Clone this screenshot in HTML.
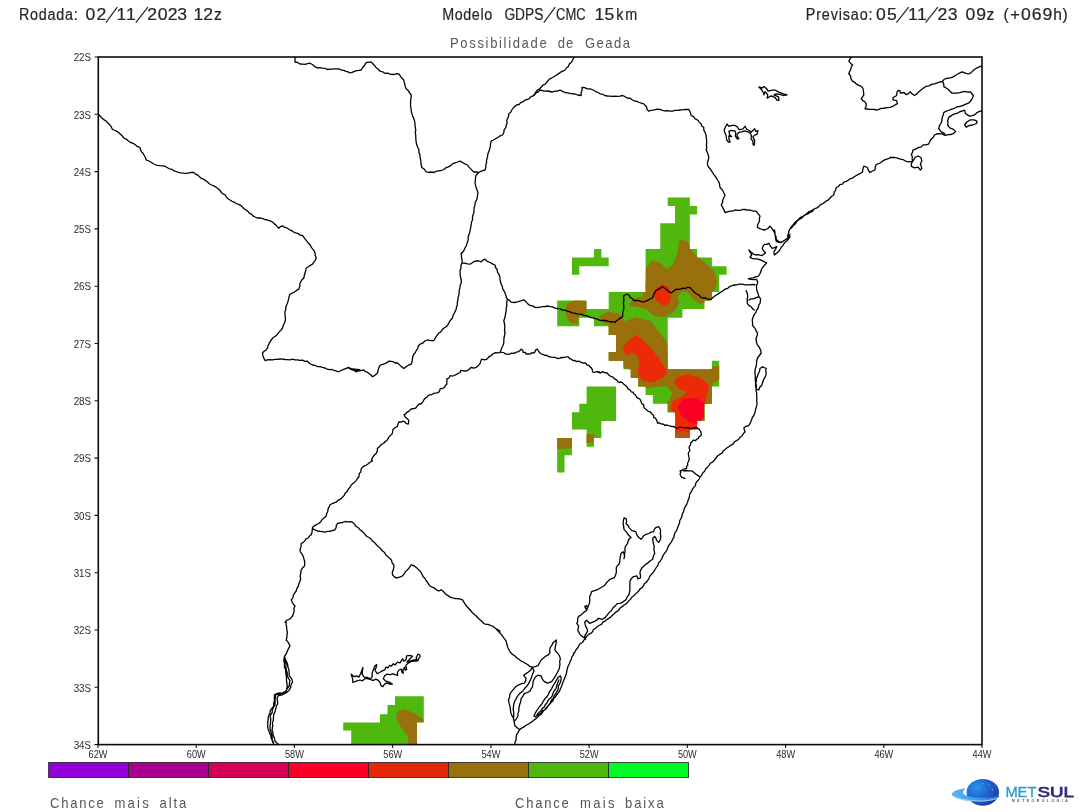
<!DOCTYPE html>
<html><head><meta charset="utf-8"><title>Possibilidade de Geada</title>
<style>
html,body{margin:0;padding:0;background:#fff;}
body{width:1080px;height:812px;overflow:hidden;position:relative;font-family:"Liberation Sans",sans-serif;}
svg{position:absolute;left:0;top:0;will-change:transform;}
text{font-family:"Liberation Sans",sans-serif;}
.ax{font-size:10.3px;fill:#2a2a2a;}
.t{font-size:15.6px;fill:#262626;stroke:#262626;stroke-width:0.2px;}
.s{font-size:14.2px;fill:#585858;}
.l{font-size:14.2px;fill:#555;}
</style></head><body>
<svg width="1080" height="812" viewBox="0 0 1080 812">
<rect width="1080" height="812" fill="#fff"/>
<text transform="translate(18.9,20) scale(0.92,1)" textLength="64.0" lengthAdjust="spacing" class="t">Rodada:</text>
<text transform="translate(90.4,20) scale(1.13,1)" text-anchor="middle" class="t">0</text><text transform="translate(101.5,20) scale(1.13,1)" text-anchor="middle" class="t">2</text>
<path d="M105.9,22.6 L117.3,7.2" stroke="#2a2a2a" stroke-width="1.25" fill="none"/>
<text transform="translate(121.5,20) scale(1.13,1)" text-anchor="middle" class="t">1</text><text transform="translate(130.8,20) scale(1.13,1)" text-anchor="middle" class="t">1</text>
<path d="M135.8,22.6 L147.9,7.2" stroke="#2a2a2a" stroke-width="1.25" fill="none"/>
<text transform="translate(152.2,20) scale(1.13,1)" text-anchor="middle" class="t">2</text><text transform="translate(162.6,20) scale(1.13,1)" text-anchor="middle" class="t">0</text><text transform="translate(172.6,20) scale(1.13,1)" text-anchor="middle" class="t">2</text><text transform="translate(182.1,20) scale(1.13,1)" text-anchor="middle" class="t">3</text><text transform="translate(198.3,20) scale(1.13,1)" text-anchor="middle" class="t">1</text><text transform="translate(208.1,20) scale(1.13,1)" text-anchor="middle" class="t">2</text>
<text transform="translate(217.8,20) scale(1.0,1)" text-anchor="middle" class="t">z</text>
<text transform="translate(442.2,20) scale(0.92,1)" textLength="54.3" lengthAdjust="spacing" class="t">Modelo</text>
<text transform="translate(504.4,20) scale(1,1)" textLength="38.9" lengthAdjust="spacingAndGlyphs" class="t">GDPS</text>
<path d="M543.8,22.6 L555.2,7.2" stroke="#2a2a2a" stroke-width="1.25" fill="none"/>
<text transform="translate(556,20) scale(1,1)" textLength="29.6" lengthAdjust="spacingAndGlyphs" class="t">CMC</text>
<text transform="translate(599.5,20) scale(1.13,1)" text-anchor="middle" class="t">1</text><text transform="translate(609.3,20) scale(1.13,1)" text-anchor="middle" class="t">5</text>
<text transform="translate(616.3,20) scale(0.92,1)" textLength="22.8" lengthAdjust="spacing" class="t">km</text>
<text transform="translate(805.7,20) scale(0.92,1)" textLength="72.7" lengthAdjust="spacing" class="t">Previsao:</text>
<text transform="translate(880.9,20) scale(1.13,1)" text-anchor="middle" class="t">0</text><text transform="translate(892,20) scale(1.13,1)" text-anchor="middle" class="t">5</text>
<path d="M896.4,22.6 L908.7,7.2" stroke="#2a2a2a" stroke-width="1.25" fill="none"/>
<text transform="translate(912.8,20) scale(1.13,1)" text-anchor="middle" class="t">1</text><text transform="translate(922.0,20) scale(1.13,1)" text-anchor="middle" class="t">1</text>
<path d="M925.6,22.6 L937.8,7.2" stroke="#2a2a2a" stroke-width="1.25" fill="none"/>
<text transform="translate(942.5,20) scale(1.13,1)" text-anchor="middle" class="t">2</text><text transform="translate(952.6,20) scale(1.13,1)" text-anchor="middle" class="t">3</text><text transform="translate(970.5,20) scale(1.13,1)" text-anchor="middle" class="t">0</text><text transform="translate(981.2,20) scale(1.13,1)" text-anchor="middle" class="t">9</text>
<text transform="translate(990.4,20) scale(1.0,1)" text-anchor="middle" class="t">z</text>
<text transform="translate(1006,20) scale(1.0,1)" text-anchor="middle" class="t">(</text>
<text transform="translate(1015,20) scale(1.05,1)" text-anchor="middle" class="t">+</text>
<text transform="translate(1026,20) scale(1.13,1)" text-anchor="middle" class="t">0</text><text transform="translate(1036.6,20) scale(1.13,1)" text-anchor="middle" class="t">6</text><text transform="translate(1047.3,20) scale(1.13,1)" text-anchor="middle" class="t">9</text>
<text transform="translate(1057.6,20) scale(1.0,1)" text-anchor="middle" class="t">h</text>
<text transform="translate(1065,20) scale(1.0,1)" text-anchor="middle" class="t">)</text>
<text transform="translate(450,48.4) scale(0.92,1)" textLength="105.1" lengthAdjust="spacing" class="s">Possibilidade</text>
<text transform="translate(557.8,48.4) scale(0.92,1)" textLength="16.8" lengthAdjust="spacing" class="s">de</text>
<text transform="translate(584.9,48.4) scale(0.92,1)" textLength="49.0" lengthAdjust="spacing" class="s">Geada</text>
<path d="M667.7,197.4 L689.8,197.4 L689.8,206.0 L697.1,206.0 L697.1,214.6 L689.8,214.6 L689.8,249.0 L697.1,249.0 L697.1,257.6 L711.9,257.6 L711.9,266.2 L726.6,266.2 L726.6,274.8 L719.2,274.8 L719.2,291.9 L711.9,291.9 L711.9,300.5 L704.5,300.5 L704.5,309.1 L682.4,309.1 L682.4,317.7 L667.7,317.7 L667.7,369.3 L711.9,369.3 L711.9,360.7 L719.2,360.7 L719.2,386.5 L711.9,386.5 L711.9,403.7 L704.5,403.7 L704.5,420.9 L697.1,420.9 L697.1,429.5 L689.8,429.5 L689.8,438.1 L675.0,438.1 L675.0,412.3 L667.7,412.3 L667.7,403.7 L652.9,403.7 L652.9,395.1 L645.6,395.1 L645.6,386.5 L638.2,386.5 L638.2,377.9 L630.8,377.9 L630.8,369.3 L623.5,369.3 L623.5,360.7 L608.7,360.7 L608.7,352.1 L616.1,352.1 L616.1,334.9 L608.7,334.9 L608.7,326.3 L594.0,326.3 L594.0,317.7 L579.3,317.7 L579.3,326.3 L557.2,326.3 L557.2,300.5 L586.6,300.5 L586.6,309.1 L608.7,309.1 L608.7,291.9 L645.6,291.9 L645.6,249.0 L660.3,249.0 L660.3,223.2 L675.0,223.2 L675.0,206.0 L667.7,206.0Z" fill="#4fb70d"/>
<path d="M594.0,249.0 L601.4,249.0 L601.4,257.6 L608.7,257.6 L608.7,266.2 L579.3,266.2 L579.3,274.8 L571.9,274.8 L571.9,257.6 L594.0,257.6Z" fill="#4fb70d"/>
<path d="M586.6,386.5 L616.1,386.5 L616.1,420.9 L601.4,420.9 L601.4,438.1 L594.0,438.1 L594.0,446.7 L586.6,446.7 L586.6,429.5 L571.9,429.5 L571.9,412.3 L579.3,412.3 L579.3,403.7 L586.6,403.7Z" fill="#4fb70d"/>
<path d="M557.2,438.1 L571.9,438.1 L571.9,455.2 L564.5,455.2 L564.5,472.4 L557.2,472.4Z" fill="#4fb70d"/>
<clipPath id="cm"><path d="M667.7,197.4 L689.8,197.4 L689.8,206.0 L697.1,206.0 L697.1,214.6 L689.8,214.6 L689.8,249.0 L697.1,249.0 L697.1,257.6 L711.9,257.6 L711.9,266.2 L726.6,266.2 L726.6,274.8 L719.2,274.8 L719.2,291.9 L711.9,291.9 L711.9,300.5 L704.5,300.5 L704.5,309.1 L682.4,309.1 L682.4,317.7 L667.7,317.7 L667.7,369.3 L711.9,369.3 L711.9,360.7 L719.2,360.7 L719.2,386.5 L711.9,386.5 L711.9,403.7 L704.5,403.7 L704.5,420.9 L697.1,420.9 L697.1,429.5 L689.8,429.5 L689.8,438.1 L675.0,438.1 L675.0,412.3 L667.7,412.3 L667.7,403.7 L652.9,403.7 L652.9,395.1 L645.6,395.1 L645.6,386.5 L638.2,386.5 L638.2,377.9 L630.8,377.9 L630.8,369.3 L623.5,369.3 L623.5,360.7 L608.7,360.7 L608.7,352.1 L616.1,352.1 L616.1,334.9 L608.7,334.9 L608.7,326.3 L594.0,326.3 L594.0,317.7 L579.3,317.7 L579.3,326.3 L557.2,326.3 L557.2,300.5 L586.6,300.5 L586.6,309.1 L608.7,309.1 L608.7,291.9 L645.6,291.9 L645.6,249.0 L660.3,249.0 L660.3,223.2 L675.0,223.2 L675.0,206.0 L667.7,206.0Z"/></clipPath>
<clipPath id="c2"><path d="M586.6,386.5 L616.1,386.5 L616.1,420.9 L601.4,420.9 L601.4,438.1 L594.0,438.1 L594.0,446.7 L586.6,446.7 L586.6,429.5 L571.9,429.5 L571.9,412.3 L579.3,412.3 L579.3,403.7 L586.6,403.7Z"/></clipPath>
<clipPath id="c3"><path d="M557.2,438.1 L571.9,438.1 L571.9,455.2 L564.5,455.2 L564.5,472.4 L557.2,472.4Z"/></clipPath>
<path d="M680.0,240.0 L686.7,241.7 L691.7,251.7 L698.3,258.3 L706.7,265.0 L714.2,273.3 L716.7,283.3 L712.5,291.7 L710.0,300.0 L700.0,303.3 L693.3,298.3 L688.3,291.7 L681.7,290.0 L676.7,296.7 L678.3,303.3 L673.3,311.7 L663.3,316.7 L653.3,315.0 L648.3,309.2 L640.0,306.7 L630.0,305.0 L633.3,300.0 L643.3,296.7 L645.8,283.3 L646.7,268.3 L651.7,261.7 L660.0,263.3 L666.7,270.0 L673.3,265.0 L678.3,253.3Z" fill="#98700c" clip-path="url(#cm)" stroke="#98700c" stroke-width="1.5" stroke-linejoin="round"/>
<path d="M566.7,305.0 L575.0,300.8 L585.8,301.7 L585.8,313.3 L578.3,315.0 L576.7,323.3 L570.0,321.7 L566.7,315.0Z" fill="#98700c" clip-path="url(#cm)" stroke="#98700c" stroke-width="1.5" stroke-linejoin="round"/>
<path d="M600.0,316.7 L608.3,312.5 L618.3,314.2 L623.3,320.0 L616.7,325.0 L605.0,323.3Z" fill="#98700c" clip-path="url(#cm)" stroke="#98700c" stroke-width="1.5" stroke-linejoin="round"/>
<path d="M608.7,326.3 L620.0,323.3 L636.7,318.3 L650.0,321.7 L656.7,330.0 L666.7,343.3 L667.7,369.3 L700.0,370.0 L711.8,369.3 L711.8,403.7 L704.5,403.7 L704.5,420.8 L675.0,435.0 L675.0,412.3 L667.7,412.3 L667.7,403.7 L670.0,400.0 L673.3,393.3 L666.7,385.0 L646.7,387.5 L645.5,386.5 L638.2,386.5 L638.2,377.8 L630.8,377.8 L630.0,369.3 L623.5,366.7 L623.5,360.7 L608.7,360.7 L608.7,352.0 L616.2,352.0 L616.2,334.8 L608.7,334.8Z" fill="#98700c" clip-path="url(#cm)" stroke="#98700c" stroke-width="1.5" stroke-linejoin="round"/>
<path d="M656.7,288.3 L663.3,285.0 L669.2,288.3 L670.0,296.7 L668.3,303.3 L663.3,305.0 L656.7,300.0 L654.2,293.3Z" fill="#ec2a08" clip-path="url(#cm)" stroke="#ec2a08" stroke-width="1.5" stroke-linejoin="round"/>
<path d="M623.3,348.3 L630.0,340.0 L636.7,335.8 L643.3,341.7 L650.0,348.3 L656.7,356.7 L663.3,366.7 L666.7,371.7 L663.3,376.7 L653.3,381.7 L643.3,380.0 L638.3,373.3 L640.0,363.3 L638.3,355.0 L631.7,351.7 L626.7,355.0Z" fill="#ec2a08" clip-path="url(#cm)" stroke="#ec2a08" stroke-width="1.5" stroke-linejoin="round"/>
<path d="M676.7,378.3 L686.7,375.0 L700.0,378.3 L708.3,385.0 L706.7,393.3 L705.0,400.0 L703.3,406.7 L701.7,416.7 L696.7,423.3 L695.0,438.3 L676.7,438.3 L676.7,416.7 L671.7,408.3 L673.3,401.7 L683.3,396.7 L688.3,391.7 L680.0,388.3 L675.0,383.3Z" fill="#ec2a08" clip-path="url(#cm)" stroke="#ec2a08" stroke-width="1.5" stroke-linejoin="round"/>
<path d="M683.3,400.0 L695.0,398.3 L703.3,403.3 L703.3,416.7 L696.7,423.3 L690.0,421.7 L681.7,415.0 L678.3,406.7Z" fill="#fb0026" clip-path="url(#cm)" stroke="#fb0026" stroke-width="1.5" stroke-linejoin="round"/>
<path d="M710.0,368.3 L719.2,366.3 L719.2,378.7 L714.2,382.0 L710.0,383.3Z" fill="#98700c" clip-path="url(#cm)" stroke="#98700c" stroke-width="1.5" stroke-linejoin="round"/>
<path d="M675.0,433.7 L683.3,432.0 L689.8,434.3 L689.8,438.0 L675.0,438.0Z" fill="#b9550f" clip-path="url(#cm)" stroke="#b9550f" stroke-width="1.5" stroke-linejoin="round"/>
<path d="M586.7,435.0 L594.0,435.0 L594.0,440.8 L586.7,442.5Z" fill="#98700c" clip-path="url(#c2)" stroke="#98700c" stroke-width="1.5" stroke-linejoin="round"/>
<path d="M557.2,438.0 L571.8,438.0 L571.8,447.5 L557.2,448.3Z" fill="#98700c" clip-path="url(#c3)" stroke="#98700c" stroke-width="1.5" stroke-linejoin="round"/>
<path d="M395,696.2 L423.8,696.2 L423.8,722.5 L417,722.5 L417,744.5 L351.2,744.5 L351.2,730.5 L343.2,730.5 L343.2,722.5 L380,722.5 L380,714.2 L387.5,714.2 L387.5,705 L395,705Z" fill="#4fb70d"/>
<clipPath id="cb"><path d="M395,696.2 L423.8,696.2 L423.8,722.5 L417,722.5 L417,744.5 L351.2,744.5 L351.2,730.5 L343.2,730.5 L343.2,722.5 L380,722.5 L380,714.2 L387.5,714.2 L387.5,705 L395,705Z"/></clipPath>
<path d="M397.5,711.2 L405,709.2 L415,713.8 L423.8,720 L423.8,722.5 L417,722.5 L417,744.5 L407.5,744.5 L408.8,737.5 L401.2,727.5 L396.2,718.8Z" fill="#98700c" clip-path="url(#cb)"/>
<g clip-path="url(#frame)"><path d="M98.8,114.5 L100.4,116.5 L102.3,118.3 L104.2,119.9 L106.5,121.3 L108.1,123.3 L110.0,125.0 L111.4,127.2 L112.5,129.5 L115.3,130.5 L117.8,131.9 L120.0,133.8 L122.1,135.7 L123.8,138.0 L126.1,139.1 L128.1,140.8 L130.2,142.3 L132.8,143.1 L135.0,144.5 L137.3,146.4 L140.0,147.5 L140.6,149.8 L141.6,151.9 L143.3,153.7 L144.4,155.7 L145.5,157.8 L146.2,160.0 L148.6,160.8 L150.8,162.0 L152.8,163.5 L155.0,164.5 L157.4,165.4 L159.9,165.7 L162.5,165.8 L165.0,166.2 L167.1,167.5 L169.2,168.8 L171.8,169.2 L173.8,170.8 L176.2,171.5 L178.6,172.4 L181.2,172.9 L183.8,173.2 L186.3,173.3 L188.7,172.9 L191.2,172.3 L193.8,172.5 L195.5,174.1 L197.8,175.1 L199.5,176.8 L201.3,178.4 L203.6,179.2 L205.6,180.6 L207.5,182.0 L209.3,183.8 L211.5,185.0 L214.0,185.9 L216.1,187.3 L218.1,188.8 L220.0,190.5 L221.4,192.4 L223.1,193.9 L225.3,195.0 L226.4,197.1 L228.0,198.8 L230.0,200.0 L232.0,201.3 L234.2,202.2 L236.2,203.5 L238.5,204.3 L240.7,205.4 L242.5,207.0 L244.0,208.8 L246.0,210.0 L247.8,211.3 L249.3,213.1 L251.5,214.1 L253.0,215.9 L255.0,217.0 L257.4,218.0 L260.1,217.9 L262.6,218.6 L265.0,219.5 L267.6,220.1 L270.1,220.9 L272.5,222.0 L274.0,223.6 L275.8,224.9 L277.3,226.6 L278.8,228.2 L280.4,226.7 L282.5,225.8 L284.3,227.2 L286.6,227.8 L288.5,229.0 L290.5,230.2 L292.5,231.2 L294.8,232.7 L297.5,233.3 L299.8,234.9 L302.5,235.5 L304.1,237.6 L305.6,239.6 L307.2,241.7 L308.8,243.8 L310.4,245.3 L311.3,247.4 L312.8,249.1 L314.2,250.8 L315.0,253.0 L315.3,255.6 L316.2,258.0 L315.3,260.3 L313.8,262.2 L312.5,264.2 L310.3,265.3 L308.3,266.7 L306.2,268.0 L305.8,270.5 L305.0,273.0 L304.3,275.5 L303.8,278.0 L301.6,280.3 L300.0,283.0 L299.8,286.2 L298.8,289.2 L296.5,290.4 L294.5,292.0 L292.3,293.2 L290.0,294.2 L289.1,296.4 L288.7,298.6 L288.1,300.8 L287.5,303.0 L286.6,305.1 L285.8,307.3 L285.7,309.6 L285.0,311.8 L285.0,314.5 L285.3,317.3 L285.5,320.0 L284.5,322.7 L283.3,325.3 L282.5,328.0 L280.9,330.1 L279.1,332.1 L277.5,334.2 L275.4,336.2 L273.0,337.7 L271.2,340.0 L270.1,341.9 L269.0,343.8 L268.0,345.8 L267.5,348.0 L266.0,349.9 L264.1,351.3 L262.5,353.0 L262.9,355.7 L263.8,358.1 L265.0,360.5 L267.5,359.9 L270.0,359.7 L272.5,359.9 L275.0,359.3 L277.5,359.3 L280.0,359.0 L282.5,359.2 L285.0,359.5 L287.5,359.7 L290.0,359.9 L292.5,359.2 L295.0,359.9 L297.5,359.8 L300.0,360.3 L302.6,360.1 L304.9,361.3 L307.5,361.2 L309.7,363.5 L312.5,365.0 L315.1,365.3 L317.4,366.7 L320.0,366.7 L322.5,367.4 L325.0,368.0 L327.1,369.1 L329.5,369.6 L332.0,369.5 L334.2,370.4 L336.5,371.1 L338.8,371.8 L341.2,370.5 L343.6,369.3 L346.2,368.4 L348.8,367.5 L351.1,369.1 L354.0,369.9 L356.2,371.8 L360.0,370.0 L357.5,369.4 L355.0,369.1 L352.4,369.0 L350.0,368.2 L347.5,367.5 L349.9,368.8 L352.5,369.8 L355.0,371.0 L357.1,370.2 L359.5,370.9 L361.6,370.4 L363.8,369.8 L365.2,371.6 L367.5,372.2 L369.2,373.7 L371.1,375.0 L372.5,376.8 L375.2,375.1 L377.5,373.0 L378.1,370.4 L378.8,367.9 L380.0,365.5 L382.2,364.4 L384.6,363.8 L386.7,362.6 L388.8,361.2 L391.0,361.4 L393.2,361.7 L395.2,363.0 L397.5,363.0 L399.5,364.9 L401.5,366.8 L403.8,368.5 L406.0,366.7 L408.5,365.2 L411.2,364.2 L412.1,361.8 L412.4,359.2 L412.7,356.6 L413.8,354.2 L415.4,352.5 L416.4,350.3 L417.8,348.4 L418.4,346.0 L420.0,344.2 L422.7,343.2 L424.8,341.0 L427.5,340.0 L430.6,340.6 L433.8,340.5 L435.0,338.6 L436.1,336.7 L437.5,334.9 L438.8,333.0 L440.8,331.9 L442.1,329.8 L443.7,328.2 L445.8,327.0 L447.5,325.5 L448.5,323.5 L449.6,321.5 L450.9,319.7 L452.5,318.0 L453.0,315.6 L454.1,313.5 L455.1,311.4 L456.2,309.2 L456.5,306.9 L457.4,304.7 L457.3,302.3 L457.9,300.1 L458.0,297.7 L458.8,295.5 L459.1,293.0 L459.2,290.4 L460.0,287.9 L460.2,285.4 L461.2,283.0 L461.3,280.5 L460.8,278.0 L460.2,275.5 L460.2,273.0 L460.0,270.5 L461.1,268.1 L460.9,265.4 L462.0,263.0 L462.2,260.5 L461.6,258.0 L461.4,255.5 L461.2,253.0 L462.0,253.0 L463.7,250.9 L464.7,248.4 L466.2,246.2 L466.8,244.0 L467.5,241.8 L468.3,239.6 L468.1,237.2 L468.8,235.0 L469.6,232.9 L470.0,230.8 L470.5,228.6 L470.8,226.4 L471.3,224.2 L471.5,222.0 L472.5,220.0 L472.5,217.4 L472.9,214.9 L474.0,212.5 L473.9,210.0 L474.2,207.4 L475.0,205.0 L475.2,202.4 L476.6,200.1 L477.2,197.6 L477.6,195.0 L478.0,192.5 L477.0,190.1 L476.2,187.6 L475.5,185.1 L475.0,182.5 L475.4,180.0 L475.5,177.4 L476.2,175.0 L478.8,172.5 M295.0,57.5 L295.1,59.8 L295.0,62.0 L297.6,62.5 L299.9,64.0 L302.5,64.2 L305.1,64.4 L307.5,63.6 L310.0,63.2 L312.7,64.8 L315.0,66.8 L317.4,67.8 L320.0,67.6 L322.5,68.2 L325.1,68.4 L327.5,69.5 L330.0,69.2 L332.5,69.1 L335.0,68.9 L337.5,68.8 L339.7,69.1 L341.7,70.2 L343.9,70.4 L345.9,71.3 L348.1,71.9 L350.0,73.0 L350.0,73.0 L352.2,72.3 L354.4,71.3 L356.6,70.7 L358.9,70.4 L361.2,70.0 L362.3,68.0 L363.8,66.3 L365.0,64.4 L366.2,62.5 L368.8,62.4 L371.2,61.8 L372.9,63.8 L374.6,65.7 L376.2,67.7 L378.3,69.3 L380.0,71.2 L382.6,71.8 L384.8,73.3 L387.6,73.1 L390.0,74.2 L392.3,74.5 L394.6,74.4 L396.9,73.7 L399.2,74.2 L400.5,76.4 L401.9,78.3 L403.8,80.0 L404.2,82.2 L404.8,84.4 L405.3,86.7 L406.2,88.8 L408.2,90.6 L409.6,92.9 L411.2,95.0 L411.1,97.5 L410.7,100.0 L410.6,102.5 L410.5,105.0 L410.8,107.5 L411.2,109.7 L411.4,112.0 L412.1,114.1 L412.7,116.3 L413.7,118.4 L414.4,120.5 L414.9,122.7 L415.0,125.0 L415.3,127.5 L415.8,130.0 L415.2,132.5 L415.7,135.0 L415.8,137.5 L415.9,140.0 L416.2,142.5 L416.8,145.1 L417.8,147.5 L419.0,149.8 L418.9,152.6 L420.0,155.0 L420.1,157.5 L420.7,160.0 L421.0,162.5 L421.2,165.0 L421.8,167.5 L424.3,169.3 L426.2,171.8 L428.7,172.3 L431.3,172.0 L433.8,172.5 L436.1,171.3 L438.7,170.8 L441.3,170.5 L443.8,169.5 L445.8,167.8 L448.3,166.8 L450.6,165.6 L452.5,163.8 L455.0,162.9 L457.5,162.0 L460.0,161.2 L462.5,162.5 L464.9,163.9 L467.5,165.0 L468.8,166.9 L470.5,168.6 L472.1,170.4 L473.8,172.0 L476.3,171.8 L478.8,172.5 M478.8,172.5 L480.7,171.3 L482.8,170.6 L485.0,170.0 L485.8,167.6 L485.8,165.0 L486.6,162.5 L486.5,159.9 L487.5,157.5 L487.6,155.1 L488.3,152.8 L489.3,150.6 L489.8,148.3 L490.4,145.9 L490.5,143.5 L491.2,141.2 L493.5,140.0 L495.7,138.7 L498.0,137.5 L500.0,135.9 L502.5,135.0 L503.8,132.7 L504.1,129.9 L505.8,127.7 L506.2,125.0 L507.2,122.9 L506.7,120.4 L507.7,118.2 L508.6,116.1 L508.8,113.8 L510.7,112.2 L511.8,110.0 L513.2,108.0 L515.0,106.2 L516.8,104.9 L519.1,104.5 L520.7,102.6 L522.8,101.9 L524.5,100.4 L526.7,99.6 L528.9,98.9 L530.4,97.0 L532.5,96.2 L534.4,94.4 L535.8,92.1 L537.5,90.0 L539.6,88.8 L541.4,87.0 L542.9,85.1 L545.3,84.1 L546.9,82.2 L548.4,80.2 L550.3,78.6 L552.5,77.5 L554.6,76.2 L556.6,75.0 L558.6,73.6 L560.6,72.2 L562.8,71.1 L565.0,70.0 L566.4,68.0 L568.4,66.5 L569.3,64.0 L571.2,62.5 L572.7,60.1 L573.8,57.5 M532.5,96.2 L534.6,95.0 L536.0,92.8 L538.4,91.9 L540.0,90.0 L542.5,90.6 L544.9,91.2 L547.5,91.0 L550.0,91.5 L552.5,92.0 L555.0,91.2 L557.6,91.2 L560.0,90.0 L562.5,91.3 L565.0,92.5 L567.5,92.8 L570.0,93.4 L572.5,93.8 L575.1,94.0 L577.5,95.0 L581.2,95.5 L581.1,92.8 L582.1,90.2 L582.0,87.5 L584.7,87.7 L587.3,88.8 L590.0,88.8 L592.1,89.5 L594.1,90.5 L596.0,91.8 L598.2,92.4 L600.0,93.8 L602.5,94.2 L604.9,95.5 L607.4,96.0 L610.0,96.2 L612.5,96.4 L615.0,96.1 L617.5,96.3 L620.0,96.1 L622.5,95.5 L625.0,96.7 L627.4,98.0 L630.2,98.4 L632.5,100.0 L634.7,101.0 L637.0,101.4 L639.2,102.5 L641.4,103.2 L643.8,103.8 L645.2,105.5 L646.7,107.2 L647.1,109.6 L648.8,111.2 L650.8,110.4 L653.1,110.2 L655.3,109.6 L657.5,109.2 L660.0,109.4 L662.5,110.3 L664.9,111.0 L667.5,110.6 L670.0,111.2 L672.5,111.1 L675.0,110.4 L677.5,110.4 L680.0,110.0 L682.9,109.7 L685.8,109.3 L688.8,109.5 L690.3,112.4 L691.2,115.5 L693.5,116.7 L695.2,118.9 L697.5,120.0 L699.1,121.9 L700.9,123.6 L701.8,125.9 L703.8,127.5 L703.8,130.1 L705.1,132.5 L706.0,134.9 L706.2,137.5 L706.6,140.0 L706.7,142.5 L706.4,145.0 L706.7,147.5 L706.2,150.0 L707.4,152.4 L708.2,154.9 L708.8,157.5 L708.3,160.0 L707.5,162.4 L707.5,165.0 L708.5,167.0 L710.1,168.7 L711.3,170.6 L712.5,172.5 L713.7,174.4 L715.1,176.2 L716.4,178.0 L717.5,180.0 L718.9,182.0 L719.6,184.3 L719.8,186.8 L721.2,188.8 L722.9,190.6 L723.7,192.9 L725.0,195.0 L723.9,197.4 L722.8,199.9 L722.5,202.6 L721.2,205.0 L722.7,207.4 L724.0,209.9 L725.0,212.5 L727.5,211.8 L730.0,211.2 L732.6,211.1 L735.0,210.0 L737.5,210.4 L740.0,210.4 L742.5,209.5 L745.0,209.5 L747.5,210.2 L750.0,210.0 L753.0,211.1 L756.2,211.2 L758.1,213.7 L760.0,216.2 L759.4,218.5 L759.5,220.9 L758.6,223.0 L757.5,225.1 L757.5,227.5 L759.9,228.7 L762.4,229.5 L765.0,230.0 L767.8,228.5 L770.0,226.2 L771.5,228.0 L772.9,229.8 L774.1,231.7 L775.0,233.8 L775.4,236.3 L775.6,238.8 L776.2,241.2 L778.6,242.3 L781.2,242.5 M851.2,57.5 L849.8,59.2 L848.8,61.2 L850.5,63.2 L852.5,65.0 L851.3,67.1 L850.7,69.4 L849.6,71.5 L848.8,73.8 L850.5,76.0 L851.0,78.9 L852.5,81.2 L854.7,82.3 L856.3,84.1 L858.4,85.1 L860.6,86.1 L862.5,87.5 L863.3,89.9 L863.6,92.5 L863.8,95.0 L862.4,96.8 L861.2,98.8 L862.8,100.6 L864.9,101.8 L866.2,103.8 L866.1,106.4 L865.0,108.8 L867.2,109.0 L869.5,109.3 L871.8,109.4 L874.0,109.4 L876.2,110.0 L878.5,109.6 L880.5,108.5 L882.8,108.3 L885.0,108.0 L887.5,107.6 L890.0,107.3 L893.7,105.8 L897.4,103.6 L896.6,100.6 L893.0,99.9 L893.0,97.7 L896.6,95.5 L897.1,91.8 L898.6,90.3 L900.3,91.0 L900.3,93.2 L904.0,92.5 L906.2,94.7 L908.4,93.6 L909.9,91.8 L912.1,93.7 L914.4,95.5 L916.9,93.9 L918.8,91.8 L920.8,90.3 L922.6,88.6 L924.7,87.3 L926.8,86.1 L929.3,85.8 L931.4,84.4 L934.4,83.9 L937.3,82.9 L939.8,82.0 L942.4,81.4 L944.0,79.5 L946.1,78.5 L948.7,78.1 L951.3,77.7 L954.0,76.4 L956.5,74.8 L958.4,73.7 L960.3,72.6 L962.4,71.8 L965.3,73.1 L968.3,74.0 L970.8,72.9 L972.7,71.1 L975.1,69.0 L977.9,67.4 L981.9,65.9 M942.4,81.4 L943.7,83.9 L943.9,86.6 L946.6,88.3 L949.1,90.3 L952.0,93.2 L954.6,93.1 L957.2,93.2 L959.8,92.7 L962.4,91.8 L965.1,91.4 L967.8,92.1 L970.5,91.8 L971.8,93.8 L973.5,95.5 L972.0,99.1 L970.5,101.0 L969.0,102.8 L965.3,104.3 L962.5,105.7 L959.4,106.5 L957.0,106.8 L955.0,108.0 L952.8,108.9 L950.6,109.5 L946.9,111.0 L943.9,112.4 M981.9,111.0 L978.6,111.7 L976.6,112.9 L974.9,114.7 L972.4,115.7 L969.8,116.1 L967.4,114.9 L965.3,113.2 L964.6,110.2 L962.4,111.0 L959.8,111.7 L957.5,113.1 L955.0,113.9 L952.8,114.5 L951.1,115.9 L949.1,116.9 L947.6,120.6 L948.0,122.8 L947.6,125.0 L949.8,127.9 L953.5,129.4 L955.7,131.6 L952.8,133.9 L950.6,134.5 L948.3,134.6 L945.4,135.3 M943.9,112.4 L943.3,114.7 L942.4,116.9 L941.9,119.4 L941.7,122.0 L939.5,125.7 L938.7,128.7 L941.0,131.6 L943.9,133.1 L945.4,135.3 L941.7,133.9 L938.7,133.6 L936.3,134.0 L934.3,135.3 L932.8,137.8 L930.6,139.8 L929.6,142.0 L928.4,144.2 L925.9,144.9 L923.2,144.9 L921.0,147.1 L918.6,147.4 L916.6,148.6 L912.9,150.1 L912.5,152.4 L911.4,154.5 L912.3,156.7 L912.2,159.0 L912.9,161.2 L909.2,161.9 L906.1,161.3 L903.3,159.7 L900.3,159.1 L897.4,158.2 L895.0,157.5 L892.5,157.3 L890.0,157.5 L890.0,158.0 L887.6,158.9 L885.2,159.7 L882.9,160.8 L880.9,162.5 L878.7,163.7 L876.2,164.5 L875.2,167.1 L875.0,170.0 L872.4,171.0 L870.0,172.5 L868.3,170.2 L867.5,167.5 L863.8,166.2 L862.9,169.1 L862.5,172.0 L860.5,173.2 L858.4,174.4 L856.3,175.5 L854.3,176.8 L852.3,178.1 L850.0,178.8 L848.2,180.2 L846.2,181.4 L843.8,182.1 L842.4,184.1 L839.9,184.6 L838.4,186.5 L836.2,187.5 L835.6,190.0 L834.2,192.4 L833.8,195.0 L831.7,196.2 L830.0,198.0 L828.4,199.8 L826.3,200.9 L824.5,202.4 L822.5,203.8 L820.2,204.8 L818.5,206.9 L816.3,208.2 L813.9,209.2 L812.4,211.5 L810.0,212.5 L808.0,213.8 L805.7,214.7 L803.6,216.0 L801.9,217.9 L799.8,219.2 L797.5,220.0 L796.4,222.1 L794.1,223.2 L793.2,225.4 L791.3,226.8 L790.0,228.8 L788.8,231.1 L788.5,233.8 L787.5,236.2 L790.0,236.7 L788.5,239.0 L786.7,241.1 L784.3,243.0 L782.8,245.6 L781.0,247.7 L779.7,250.2 L777.8,252.2 L774.4,255.0 L773.9,251.7 L775.5,249.3 L776.7,246.7 L774.5,247.7 L772.2,248.3 L770.4,246.0 L768.9,243.3 L766.8,244.4 L764.4,244.4 L763.1,246.2 L762.2,248.3 L763.5,250.8 L765.6,252.8 L762.2,255.6 L760.0,255.2 L757.8,254.7 L755.6,255.0 L753.0,253.8 L750.9,251.9 L748.9,250.0 L750.3,252.5 L751.7,255.0 L750.0,257.2 L752.1,258.3 L754.3,258.8 L756.7,258.8 L758.9,259.4 L761.6,260.3 L764.1,261.6 L766.7,262.8 L765.0,264.7 L763.3,266.7 L761.5,269.2 L760.6,272.2 L759.5,274.6 L757.8,276.7 L755.5,276.9 L753.3,277.8 L750.8,278.1 L748.3,278.9 L751.1,279.4 L753.9,279.6 L756.7,279.4 L757.8,282.2 L756.7,285.0 L756.5,287.5 L756.7,290.0 L757.6,292.2 L758.3,294.4 L758.9,296.7 L760.6,298.9 L760.4,301.1 L760.0,303.3 L758.6,305.4 L758.2,308.0 L756.7,310.0 L755.9,312.4 L754.4,314.4 L753.1,317.1 L752.2,320.0 L752.6,322.7 L752.5,325.5 L754.1,327.1 L755.4,329.0 L756.2,331.2 L757.5,333.0 L757.3,335.5 L756.1,337.9 L756.2,340.5 L756.7,342.7 L757.4,344.9 L759.0,346.7 L760.0,348.7 L760.8,350.8 L761.2,353.0 L759.4,355.5 L757.5,358.0 L756.8,360.5 L756.6,363.0 L756.3,365.6 L755.6,368.0 L755.0,370.5 L755.0,373.0 L755.2,375.5 L755.3,378.0 L755.3,380.5 L755.7,383.0 L756.5,385.5 L756.2,388.0 L756.0,390.5 L756.7,393.0 L756.6,395.5 L756.9,398.0 L756.6,400.5 L757.0,403.0 L756.7,405.6 L756.0,408.1 L755.3,410.6 L754.8,413.1 L753.8,415.5 L752.4,417.3 L751.7,419.5 L750.9,421.6 L749.9,423.6 L748.8,425.5 L746.0,426.3 L743.8,428.0 L745.0,431.8 L743.4,433.6 L742.1,435.7 L740.1,437.2 L738.8,439.2 L736.6,440.6 L734.4,441.8 L733.0,444.1 L730.8,445.3 L728.8,446.8 L726.8,448.0 L725.0,449.5 L723.2,450.9 L722.1,453.1 L720.0,454.2 L717.5,456.0 L716.0,458.0 L714.5,460.0 L712.8,461.9 L710.4,463.2 L709.1,465.3 L707.5,467.2 L705.6,469.0 L704.6,471.3 L702.7,473.0 L701.5,475.3 L700.0,477.2 L699.0,479.4 L697.2,481.2 L695.8,483.1 L695.4,485.6 L693.7,487.4 L692.4,489.4 L691.5,491.6 L690.0,493.5 L689.5,495.7 L689.2,497.9 L688.2,500.0 L687.5,502.4 L686.5,504.7 L685.1,506.9 L684.1,509.1 L683.6,511.6 L682.3,513.8 L682.0,516.3 L680.9,518.6 L679.7,520.8 L679.5,523.4 L678.3,525.6 L677.5,528.0 L676.7,530.4 L675.1,532.4 L674.3,534.8 L673.9,537.3 L672.4,539.4 L671.7,541.6 L670.3,543.4 L669.0,545.3 L667.8,547.3 L667.2,549.5 L666.0,551.5 L664.5,553.3 L663.2,555.1 L662.4,557.2 L661.4,559.3 L660.2,561.2 L658.5,562.9 L658.0,565.2 L656.6,567.1 L655.3,569.0 L654.1,571.1 L652.8,573.0 L651.1,574.7 L649.6,576.6 L648.8,578.9 L647.5,580.7 L646.2,582.5 L644.3,583.8 L643.4,585.9 L642.1,587.7 L640.0,588.8 L638.9,590.7 L637.3,592.4 L635.4,593.8 L634.0,595.7 L632.0,597.0 L630.7,599.0 L629.0,600.6 L627.6,602.3 L626.1,603.9 L624.1,605.0 L622.4,606.4 L620.5,607.7 L619.2,609.5 L617.8,611.2 L615.7,612.2 L614.2,613.8 L612.4,615.1 L611.0,616.8 L609.2,618.1 L607.3,619.3 L605.4,620.8 L603.1,621.9 L601.7,624.1 L599.5,625.3 L597.3,626.5 L595.5,628.2 L593.5,629.5 L592.5,631.7 L590.9,633.4 L588.6,634.4 L586.9,636.1 L585.6,638.1 L583.9,640.1 L582.6,642.3 L580.1,643.7 L578.7,646.0 L577.7,648.0 L576.0,649.7 L575.1,651.8 L573.7,653.7 L572.8,655.8 L574.0,652.8 L573.3,655.2 L571.7,657.1 L571.3,659.5 L570.0,661.6 L569.3,664.0 L568.0,666.3 L567.3,668.7 L566.8,671.2 L566.3,673.7 L565.5,676.1 L564.5,678.4 L563.6,680.8 L562.5,683.5 L561.6,686.2 L560.4,688.8 L559.6,691.0 L558.2,692.9 L556.6,694.7 L555.6,696.8 L553.7,698.5 L552.8,701.1 L550.7,702.8 L549.2,704.8 L547.4,706.4 L546.4,708.7 L544.1,710.0 L542.8,712.0 L541.5,713.9 L539.5,715.1 L538.0,716.8 L536.4,718.4 L534.3,719.7 L532.5,721.4 L530.5,722.7 L528.4,724.0 L526.2,725.3 L524.0,726.9 L521.7,728.1 L519.6,729.6 L518.1,732.4 L516.4,735.2 L516.1,737.5 L516.1,739.9 L515.1,742.1 L514.8,744.5 M812.5,210.0 L810.6,211.3 L808.9,212.9 L806.7,213.7 L804.8,215.0 L803.2,216.6 L801.5,218.2 L799.4,219.2 L797.5,220.5 L796.3,222.5 L794.8,224.2 L793.1,225.7 L791.8,227.6 L790.0,229.0 L791.4,227.0 L793.0,225.0 L794.7,223.4 L795.9,221.4 L798.1,220.3 L799.3,218.3 L801.2,217.0 L803.3,216.1 L805.2,214.9 L806.9,213.5 L808.5,211.9 L810.6,211.2 L812.5,210.0 M774.4,230.0 L775.0,232.2 L774.8,234.5 L776.1,236.6 L776.1,238.9 L777.8,240.9 L780.0,242.2 L782.5,241.6 L784.6,240.2 L786.7,238.9 L788.6,236.9 L790.0,234.4 M746.1,290.6 L747.3,293.5 L747.8,296.7 L747.1,298.8 L747.4,301.1 L747.2,303.3 L748.8,305.4 L751.1,306.7 L752.5,308.7 L754.4,310.0 M748.9,300.0 L751.0,298.9 L753.4,298.8 L755.6,297.8 L758.9,296.7 M762.5,366.8 L766.2,368.5 L765.8,370.8 L766.2,373.0 L765.8,375.7 L764.5,378.1 L763.2,380.4 L762.5,383.0 L761.6,385.5 L759.6,387.5 L758.8,390.0 L756.2,389.2 L755.6,386.2 L755.5,383.0 L756.5,380.9 L756.4,378.5 L757.4,376.4 L758.0,374.2 L759.4,371.5 L760.0,368.5 L762.5,366.8 M912.9,161.2 L915.1,157.5 L918.1,156.0 L921.0,157.5 L921.8,161.2 L920.3,164.1 L921.3,166.3 L921.8,168.6 L920.3,170.0 L918.1,167.1 L914.4,167.8 L911.4,166.4 L911.4,163.4 L912.9,161.2 M964.6,125.0 L966.8,122.0 L970.5,119.8 L974.2,119.8 L977.1,121.3 L976.4,123.5 L972.7,125.0 L969.0,125.7 L966.1,127.2 L964.6,125.0 M462.0,263.0 L464.7,263.2 L467.3,263.8 L470.0,264.2 L472.0,263.0 L473.9,261.6 L476.2,261.0 L478.8,261.0 L481.2,261.8 L482.9,260.2 L485.0,259.2 L487.2,261.3 L490.0,262.5 L492.4,263.9 L495.0,265.0 L495.5,267.5 L497.2,269.5 L497.5,272.1 L498.8,274.2 L499.8,276.6 L500.0,279.3 L500.5,281.8 L501.2,284.2 L502.3,286.4 L502.7,288.8 L504.0,290.8 L505.0,293.0 L505.8,295.1 L506.3,297.3 L507.5,299.2 L509.6,300.4 L511.2,302.2 L514.4,302.5 L517.5,301.8 L520.7,300.9 L523.8,299.8 L525.9,301.6 L527.7,303.8 L530.0,305.5 L532.6,305.9 L534.9,307.4 L537.5,307.5 L540.0,307.2 L542.5,306.6 L545.0,306.7 L547.5,306.0 L550.0,306.6 L552.6,306.9 L554.9,308.1 L557.5,308.5 L560.1,308.7 L562.4,310.1 L565.1,310.2 L567.5,311.2 L570.0,311.8 L572.2,312.9 L574.6,313.1 L576.8,313.8 L579.2,314.1 L581.6,314.3 L583.8,315.5 L586.2,315.6 L588.4,316.4 L590.6,317.5 L592.9,317.9 L595.2,318.6 L597.5,319.2 L599.9,320.3 L602.5,320.5 L605.1,320.5 L607.5,321.0 L610.0,321.9 L612.6,321.6 L615.0,322.5 L616.5,320.6 L618.7,319.5 L620.4,317.8 L622.5,316.8 L622.7,314.5 L622.8,312.3 L623.5,310.2 L623.8,308.0 L623.8,305.5 L623.4,303.0 L623.9,300.5 L623.7,298.0 L623.8,295.5 L627.5,294.2 L629.3,295.5 L630.3,297.7 L632.4,298.7 L633.8,300.5 L636.3,300.4 L638.8,300.7 L641.2,301.6 L643.8,301.8 L646.1,301.2 L648.2,300.2 L650.3,298.8 L652.5,298.0 L653.5,295.4 L654.5,292.8 L656.2,290.5 L658.4,289.4 L660.5,288.1 L662.5,286.8 L665.1,288.5 L667.5,290.5 L669.3,291.9 L671.2,293.0 L673.7,291.1 L676.2,289.2 L678.6,289.4 L680.9,288.9 L683.1,288.1 L685.5,288.5 L687.6,287.3 L690.0,287.5 L691.6,289.4 L693.4,291.1 L695.0,293.0 L697.0,294.0 L699.0,295.1 L700.5,297.0 L702.5,298.0 L704.8,297.8 L706.9,298.7 L709.0,299.4 L711.2,299.2 L713.1,297.3 L715.2,295.7 L717.5,294.2 L719.4,293.1 L721.3,291.8 L723.2,290.6 L725.0,289.2 L727.7,288.3 L729.8,286.4 L732.5,285.5 L735.0,285.0 L737.5,284.7 L739.9,284.1 L742.5,284.2 L745.0,284.8 L747.5,284.9 L750.0,284.9 L752.5,284.3 L755.0,285.0 M507.5,299.2 L506.9,301.5 L506.7,303.7 L506.8,306.0 L506.2,308.2 L506.2,310.5 L505.7,313.0 L505.3,315.6 L504.8,318.1 L503.8,320.5 L504.3,323.0 L504.8,325.4 L504.7,328.0 L504.5,330.5 L505.0,333.0 L504.5,335.5 L504.0,338.0 L503.8,340.5 L503.8,343.0 L503.0,345.5 L501.8,347.8 L501.0,350.2 L500.0,352.6 L497.8,352.8 L495.6,352.6 L492.6,354.0 L491.4,355.6 L489.5,356.3 L488.2,357.7 L486.6,359.3 L484.5,359.9 L481.5,359.2 L480.7,361.4 L480.0,363.6 L478.3,365.6 L476.4,367.3 L473.4,368.1 L471.2,367.3 L469.0,369.5 L466.9,370.9 L464.5,371.0 L462.7,370.6 L460.8,370.3 L460.3,372.1 L458.6,373.2 L456.5,374.4 L454.2,375.5 L452.3,376.1 L450.5,375.5 L449.1,377.7 L446.8,379.1 L446.9,381.7 L446.8,384.3 L445.3,385.5 L444.6,387.3 L442.5,388.5 L440.2,388.7 L439.4,391.7 L437.3,392.8 L435.0,393.2 L433.1,393.7 L431.3,394.7 L428.8,395.2 L426.9,396.9 L425.3,398.3 L423.9,399.8 L422.9,401.7 L421.7,403.5 L419.2,404.0 L417.3,405.7 L416.2,407.7 L414.3,408.7 L412.4,408.6 L410.6,409.4 L409.0,411.1 L406.9,412.4 L405.7,413.9 L404.0,414.6 L405.5,417.5 L407.4,418.6 L408.7,420.5 L408.7,422.4 L408.1,424.2 L406.2,423.5 L405.0,422.0 L403.2,421.2 L401.1,422.1 L398.8,422.0 L398.0,424.2 L397.3,426.4 L395.0,427.7 L392.9,429.4 L392.7,431.6 L392.2,433.8 L390.3,435.6 L388.5,437.5 L387.7,439.4 L386.5,440.8 L384.8,441.9 L383.6,443.5 L381.7,444.2 L380.3,445.6 L378.9,447.2 L377.4,448.6 L377.3,450.8 L376.6,453.0 L374.7,454.8 L373.0,456.7 L371.5,459.9 L372.5,461.0 L370.3,462.0 L368.5,463.5 L366.6,465.0 L364.4,465.9 L362.5,467.2 L361.0,469.3 L360.8,471.9 L359.1,473.8 L359.0,476.5 L357.5,478.5 L356.2,480.4 L354.7,482.2 L352.8,483.6 L351.1,485.2 L350.0,487.2 L348.3,489.1 L347.2,491.4 L345.2,493.0 L344.2,495.4 L342.5,497.2 L340.6,499.1 L338.1,500.2 L336.2,502.2 L334.1,502.9 L332.0,503.7 L330.0,504.8 L329.1,506.9 L328.0,509.1 L327.8,511.5 L326.6,513.6 L326.2,516.0 L324.2,517.7 L322.2,519.5 L320.7,521.7 L318.8,523.5 L316.5,524.5 L314.5,525.9 L312.5,527.2 L312.3,529.8 L312.0,532.3 L311.2,534.8 L309.5,536.1 L308.2,538.0 L306.0,538.8 L304.8,540.9 L303.3,542.4 L301.2,543.5 L301.0,546.7 L300.0,549.8 L300.5,552.1 L302.0,554.1 L303.2,556.2 L303.8,558.5 L304.5,560.9 L304.8,563.4 L304.5,566.0 L302.7,567.7 L301.2,569.8 L300.9,572.0 L300.5,574.2 L300.2,576.5 L300.7,578.8 L300.0,581.0 L299.0,583.5 L298.3,586.1 L296.9,588.4 L296.2,591.0 L294.7,593.0 L293.4,595.2 L292.9,597.8 L291.2,599.8 L292.2,602.0 L293.4,604.2 L295.0,606.0 L293.9,608.4 L294.2,611.1 L293.4,613.6 L292.5,616.0 L290.9,617.9 L289.1,619.5 L286.6,620.4 L285.0,622.2 L286.2,622.5 L286.2,625.0 L286.7,627.5 L286.8,630.0 L287.5,632.5 L286.9,635.0 L286.9,637.5 L286.2,640.0 L287.9,641.9 L289.1,643.9 L290.0,646.2 L288.4,648.7 L287.2,651.5 L286.1,654.0 L284.5,656.2 L283.8,660.3 L284.3,662.5 L284.4,664.8 L284.5,667.1 L285.5,669.2 L285.7,671.5 L285.9,673.8 L286.4,676.5 L286.5,679.2 L286.6,682.0 L287.2,684.7 L287.0,687.4 L286.5,690.1 L284.6,691.9 L282.5,693.5 L279.8,692.9 L277.1,693.5 L274.4,694.8 L274.4,697.8 L274.4,700.9 L273.6,703.6 L273.7,706.3 L271.9,708.3 L270.3,710.4 L270.1,712.8 L269.0,714.9 L268.3,717.1 L268.2,719.5 L267.6,721.8 L267.9,724.2 L267.6,726.6 L268.1,728.9 L268.9,731.1 L269.6,733.4 L270.8,735.5 L271.1,738.0 L272.3,740.1 L273.4,742.4 L273.7,744.9 M284.5,656.2 L285.2,659.1 L286.5,661.7 L287.6,664.3 L287.9,667.1 L288.9,669.7 L289.1,672.4 L289.2,675.2 L290.4,677.4 L291.9,679.2 L292.6,681.9 L291.1,684.5 L290.6,687.4 L289.3,690.0 L287.2,692.1 L284.8,693.5 L282.5,694.8 L278.4,695.5 L277.1,698.2 L277.4,700.9 L277.7,703.6 L276.4,706.2 L275.7,709.0 L275.0,711.8 L273.7,714.4 L273.5,716.7 L273.4,719.0 L273.0,721.2 L272.4,723.4 L272.8,725.7 L272.3,728.0 L272.1,730.3 L273.0,732.4 L273.0,734.7 L274.3,737.7 L275.0,740.8 L276.9,743.0 L279.1,744.9 M285.2,658.9 L285.4,661.7 L286.1,664.3 L285.9,667.1 L286.2,669.8 L287.2,672.4 L287.2,675.2 L288.3,678.0 L289.9,680.6 L289.4,683.3 L289.2,686.0 L287.3,688.5 L285.9,691.4 L283.1,692.6 L280.4,694.1 L278.1,694.3 L275.7,694.1 L275.5,696.8 L275.0,699.5 L275.1,702.2 L275.0,705.0 L273.3,707.5 L272.3,710.4 L272.1,712.8 L270.6,714.8 L270.3,717.1 L270.8,719.5 L270.5,721.9 L270.4,724.2 L270.0,726.6 L270.1,729.4 L271.1,732.0 L271.7,734.7 L272.2,737.4 L272.1,740.2 L273.0,742.8 M500.0,351.8 L501.9,352.3 L503.9,352.7 L505.5,354.1 L507.5,354.2 L509.4,354.3 L511.2,353.2 L513.1,353.4 L515.0,353.0 L516.6,352.1 L518.5,351.7 L519.9,350.5 L521.2,349.2 L522.8,350.2 L523.1,352.4 L525.5,352.5 L526.2,354.2 L528.1,353.8 L530.1,354.1 L531.8,352.7 L533.8,353.0 L535.0,351.7 L535.7,349.9 L537.5,349.2 L538.5,351.3 L540.0,353.0 L541.5,354.1 L543.3,354.4 L544.8,355.5 L546.8,355.2 L548.2,356.5 L550.0,356.8 L551.6,357.1 L553.3,357.3 L555.0,357.3 L556.6,358.2 L558.2,358.6 L560.0,358.0 L562.1,357.5 L564.2,357.5 L566.2,356.8 L568.3,356.8 L569.6,358.6 L571.4,359.2 L572.9,360.6 L575.0,360.5 L576.6,361.6 L578.6,361.1 L580.3,361.8 L581.9,362.8 L583.8,363.0 L585.8,363.2 L586.9,364.8 L588.7,365.3 L590.0,366.8 L591.4,368.1 L592.4,369.7 L592.5,371.8 L594.3,372.5 L596.4,371.7 L598.2,372.2 L600.0,373.0 L597.5,371.8 L599.2,371.8 L600.8,372.8 L602.6,371.6 L604.2,372.5 L605.8,372.9 L607.5,373.0 L608.3,374.6 L609.6,375.5 L610.8,376.6 L612.8,376.9 L613.8,378.1 L615.0,379.2 L616.6,379.9 L617.6,381.5 L619.0,382.5 L621.1,382.0 L622.6,382.9 L623.8,384.2 L625.3,385.2 L626.6,386.4 L627.5,388.0 L628.6,389.4 L630.3,390.2 L631.2,391.8 L633.1,392.1 L633.8,393.8 L635.2,394.8 L636.2,396.1 L637.0,397.7 L638.5,398.4 L640.0,399.2 L640.7,400.8 L641.3,402.3 L642.0,403.9 L643.7,404.9 L643.8,406.8 L644.5,408.3 L645.9,409.2 L647.1,410.4 L648.4,411.3 L650.1,411.8 L651.2,413.0 L652.3,414.3 L653.6,415.5 L653.7,417.4 L655.5,418.3 L656.4,419.7 L657.1,421.3 L657.5,423.0 L659.6,423.0 L661.3,424.0 L663.4,424.1 L665.0,425.5 L666.8,425.0 L668.5,425.6 L670.1,425.8 L671.7,426.6 L673.5,426.3 L675.0,427.5 L676.6,428.2 L678.2,427.8 L679.8,427.1 L681.4,427.3 L683.0,427.6 L684.7,427.7 L686.2,428.0 L687.9,427.3 L689.5,428.6 L691.1,428.9 L692.7,427.9 L694.3,428.0 L695.9,427.3 L697.5,428.0 L697.2,428.3 L698.9,428.9 L699.8,430.3 L700.8,431.7 L701.3,433.8 L700.8,435.8 L699.1,436.5 L698.4,438.5 L696.7,439.2 L695.6,440.7 L693.3,440.1 L692.3,441.6 L690.8,442.5 L690.6,444.8 L689.2,446.7 L689.1,448.3 L690.0,450.0 L689.1,451.7 L688.3,453.3 L688.5,455.0 L688.8,456.7 L689.2,458.3 L689.0,460.1 L688.3,461.7 L687.5,463.3 L687.8,465.1 L686.5,466.6 L686.7,468.3 L685.0,468.9 L683.2,469.1 L681.8,470.5 L680.0,470.8 L680.8,472.4 L680.0,474.3 L680.8,475.8 L681.8,477.4 L683.3,478.0 L685.0,478.3 M683.3,470.8 L686.1,470.5 L688.9,470.8 L691.7,470.8 L693.7,472.3 L695.7,474.0 L697.8,475.4 L700.0,476.7 M312.5,528.5 L314.9,529.9 L317.5,531.0 L320.0,531.3 L322.5,531.6 L325.0,532.2 L327.4,531.3 L330.1,531.4 L332.5,530.5 L335.0,529.8 L336.1,527.8 L336.3,525.4 L337.5,523.5 L340.0,522.8 L342.6,522.5 L345.0,521.5 L347.5,521.8 L350.0,521.6 L352.5,522.2 L354.4,524.1 L356.0,526.3 L358.3,527.7 L360.0,529.8 L362.0,531.1 L363.7,532.8 L365.2,534.7 L366.9,536.5 L369.2,537.5 L371.0,539.1 L372.5,541.0 L374.4,542.5 L376.0,544.2 L377.5,546.0 L379.4,547.4 L381.0,549.2 L382.5,551.0 L384.6,552.6 L385.9,555.1 L387.9,556.8 L390.0,558.5 L391.6,560.4 L392.1,562.9 L393.8,564.8 L393.9,567.3 L393.3,569.8 L392.3,572.2 L392.5,574.8 L394.2,576.6 L396.2,578.0 L399.5,577.2 L402.5,576.0 L404.1,573.9 L405.6,571.6 L407.5,569.8 L409.5,567.3 L411.2,564.8 L413.6,565.6 L415.6,567.0 L417.5,568.5 L419.1,570.4 L420.9,572.2 L422.1,574.4 L423.2,576.7 L425.0,578.5 L426.1,580.5 L427.5,582.3 L428.6,584.2 L430.0,586.0 L432.2,587.2 L434.6,588.2 L436.5,589.8 L438.8,591.0 L441.2,589.8 L443.1,591.2 L444.6,593.0 L446.2,594.6 L448.3,595.7 L450.0,597.2 L452.5,597.8 L454.9,598.5 L457.5,598.7 L460.1,599.0 L462.5,599.8 L463.9,602.1 L465.3,604.4 L466.9,606.5 L468.8,608.5 L470.5,610.5 L472.2,612.5 L474.2,614.3 L476.2,616.0 L478.0,618.0 L480.0,619.7 L482.0,621.5 L483.8,623.5 L485.9,624.3 L488.2,624.3 L490.3,625.3 L492.5,626.0 L494.2,627.5 L496.1,628.7 L498.0,629.9 L500.0,631.0 L496.4,629.6 L498.2,631.0 L499.7,632.7 L501.2,634.4 L502.8,636.5 L504.3,638.7 L506.0,640.8 L506.9,644.0 L507.6,647.2 L509.0,649.7 L510.4,652.3 L512.4,654.4 L514.7,655.7 L516.6,657.7 L518.8,659.2 L520.8,660.8 L523.1,661.8 L525.2,663.2 L527.6,664.5 L529.7,666.3 L532.4,667.2 L530.8,669.9 L528.4,672.0 L526.0,673.6 L523.6,675.2 L526.0,678.4 L525.6,680.9 L524.4,683.2 L521.5,683.7 L518.8,684.8 L516.1,686.4 L514.0,688.8 L512.0,691.2 L510.0,693.6 L509.6,696.9 L508.4,700.0 L509.1,703.2 L510.0,706.4 L510.4,709.6 L510.8,712.8 L511.8,715.3 L513.2,717.6 L514.0,720.8 L514.4,723.2 L514.8,725.6 L517.1,727.7 L519.6,729.6 M532.4,667.2 L535.3,666.7 L538.0,665.6 L539.6,662.8 L541.2,660.0 L543.5,657.9 L546.0,656.0 L548.3,654.8 L550.0,652.8 L549.7,650.4 L550.0,648.0 L551.8,645.3 L553.2,642.4 L556.4,640.0 L556.1,642.8 L555.6,645.6 L554.8,649.6 L556.2,651.8 L558.0,653.6 L559.6,656.2 L560.4,659.2 L559.6,661.5 L560.0,664.0 L559.6,666.4 L559.3,668.7 L558.2,670.8 L557.2,672.8 L555.7,675.7 L554.0,678.4 L551.6,681.6 L547.6,683.2 L544.4,681.6 L542.3,679.1 L541.2,676.0 L538.0,675.2 L535.6,676.8 L534.5,678.8 L533.2,680.8 L532.9,684.0 L532.4,687.2 L531.0,689.1 L530.0,691.2 L527.3,692.5 L524.4,693.6 L523.0,696.1 L521.2,698.4 L520.7,701.7 L519.6,704.8 L518.9,708.0 L518.8,711.2 L517.9,713.5 L518.0,716.0 L516.8,718.0 L515.6,720.0 L514.0,720.8 L513.5,718.4 L513.7,716.0 L513.8,712.8 L513.2,709.6 L513.5,706.4 L514.0,703.2 L514.9,700.7 L516.4,698.4 L517.7,695.8 L519.6,693.6 L521.4,692.2 L523.0,690.6 L524.4,688.8 L526.5,686.5 L528.4,684.0 L529.6,681.6 L530.8,679.2 L531.7,676.8 L532.4,674.4 L534.0,671.2 L532.4,667.2 M560.4,676.0 L561.2,678.4 L560.7,681.3 L559.6,684.0 L558.3,686.2 L558.2,688.9 L557.2,691.2 L555.7,693.5 L554.2,695.8 L553.2,698.4 L551.5,700.2 L550.4,702.4 L549.2,704.5 L547.6,706.4 L546.0,708.0 L544.7,709.9 L542.5,710.9 L541.2,712.8 L539.4,714.3 L537.2,715.2 L535.6,716.8 L534.0,716.0 L535.0,713.5 L536.4,711.2 L537.9,709.0 L539.4,706.8 L541.2,704.8 L542.5,702.8 L543.7,700.6 L545.0,698.5 L546.8,696.8 L548.2,694.9 L549.0,692.7 L550.2,690.7 L551.6,688.8 L552.7,686.3 L554.2,684.0 L555.6,681.6 L557.0,679.2 L558.5,676.8 L560.4,676.0 M558.8,680.0 L557.9,682.4 L557.0,684.7 L556.4,687.2 L555.5,689.3 L554.0,691.0 L553.1,693.0 L552.4,695.2 L551.4,697.5 L549.3,699.0 L547.8,700.9 L546.8,703.2 L545.2,704.8 L544.3,707.0 L542.3,708.4 L541.2,710.4 L539.1,712.3 L537.2,714.4 M624.1,517.8 L626.1,518.7 L626.6,521.2 L626.1,523.7 L628.0,525.3 L629.0,527.6 L632.0,530.6 L635.9,531.6 L636.5,534.2 L637.9,536.5 L640.9,539.4 L642.5,537.6 L643.8,535.5 L646.2,534.3 L648.8,533.5 L651.1,532.1 L653.7,531.6 L654.3,529.4 L655.7,527.6 L658.6,526.6 L659.9,528.5 L660.6,530.6 L660.3,533.2 L660.8,535.8 L660.6,538.5 L659.9,540.6 L658.6,542.4 L656.6,540.4 L656.1,538.3 L654.7,536.5 L652.7,538.5 L652.9,541.5 L653.7,544.4 L654.3,546.6 L653.8,548.9 L654.3,551.0 L654.7,553.3 L653.4,556.1 L652.7,559.2 L650.1,561.0 L647.8,563.1 L645.5,564.4 L643.6,566.2 L641.9,568.0 L640.5,570.4 L639.9,573.0 L640.5,575.4 L640.5,577.9 L637.9,578.9 L636.9,575.9 L633.0,576.9 L631.3,578.8 L630.0,580.9 L630.0,583.5 L629.8,586.1 L630.0,588.8 L629.6,591.7 L629.0,594.7 L627.2,596.9 L626.1,599.6 L624.1,601.0 L622.1,602.6 L619.7,603.3 L617.2,603.6 L615.4,605.7 L613.3,607.5 L611.6,610.2 L609.3,612.4 L607.3,614.9 L605.4,617.4 L602.4,619.3 L598.5,618.3 L596.8,620.2 L594.5,621.3 L592.1,622.3 L589.6,623.3 L586.6,620.3 L584.7,622.3 L585.6,626.2 L587.0,628.6 L587.6,631.2 L586.1,633.6 L584.7,636.1 L585.6,639.1 L583.7,637.6 L581.7,636.1 L579.7,634.1 L578.8,632.1 L577.8,630.2 L578.7,626.2 L576.8,623.3 L577.8,621.1 L577.6,618.5 L578.7,616.4 L581.4,614.7 L583.7,612.4 L586.6,610.5 L587.6,607.8 L588.7,605.2 L589.6,602.6 L589.8,599.6 L589.6,596.6 L590.9,594.3 L591.6,591.7 L594.5,590.6 L597.5,589.7 L599.9,588.2 L602.4,586.8 L604.7,585.2 L606.4,582.8 L609.3,579.9 L611.6,578.5 L614.2,577.9 L615.4,575.5 L616.2,573.0 L616.4,570.5 L616.2,568.0 L617.3,565.8 L619.2,564.1 L619.6,561.8 L620.0,559.5 L620.2,557.2 L621.1,553.3 L623.1,551.7 L624.7,555.2 L623.9,558.8 L624.6,556.5 L624.2,554.2 L625.1,552.0 L624.9,549.6 L625.1,547.3 L626.1,545.4 L627.5,543.6 L628.0,541.4 L629.1,539.1 L631.0,537.5 L628.0,534.5 L626.3,531.9 L624.1,529.6 L623.7,526.6 L623.1,523.7 L623.4,520.7 L624.1,517.8 M584.7,606.5 L586.6,605.5 L587.6,607.5 L586.0,608.9 L584.7,606.5 M758.9,87.0 L762.1,87.9 L764.0,86.6 L766.8,88.9 L768.1,91.2 L772.3,90.2 L775.5,90.2 L778.8,92.1 L783.4,93.9 L787.1,94.9 L783.4,95.5 L779.7,94.4 L776.0,93.9 L774.1,94.9 L778.8,97.2 L778.8,100.4 L776.9,100.0 L775.1,97.6 L771.4,95.8 L769.5,96.7 L767.2,98.1 L767.7,94.9 L766.3,93.0 L764.9,91.6 L764.0,94.9 L763.1,92.1 L761.7,89.8 L758.9,87.0 M727.0,124.0 L728.9,126.3 L732.1,125.4 L734.9,125.4 L737.2,126.8 L739.0,129.5 L742.7,129.1 L745.0,126.3 L746.9,129.5 L749.2,130.5 L751.0,132.3 L752.9,130.5 L754.7,128.6 L755.7,131.4 L758.0,130.5 L757.1,134.1 L754.7,135.1 L752.9,136.9 L754.7,140.6 L754.3,145.2 L753.1,144.8 L752.9,141.1 L751.0,138.8 L751.5,135.5 L750.1,133.2 L747.8,131.8 L744.6,130.9 L741.8,131.8 L739.0,132.3 L737.2,134.1 L737.2,136.5 L739.0,138.8 L737.2,138.8 L735.3,136.0 L735.8,133.2 L734.9,130.9 L730.7,130.5 L728.9,131.4 L729.8,135.1 L731.6,136.5 L728.9,136.0 L728.9,138.8 L730.2,142.0 L728.4,142.0 L726.6,139.7 L726.1,135.5 L724.7,132.3 L724.2,129.5 L725.6,126.8 L727.0,124.0 M351.2,674.2 L354.2,676.7 L356.7,675.8 L358.8,677.1 L360.8,673.3 L362.9,667.5 L362.1,674.2 L364.2,677.1 L367.5,677.5 L370.4,678.8 L372.1,677.1 L372.1,673.3 L373.3,670.0 L375.0,665.8 L376.7,664.6 L376.2,667.5 L375.0,670.0 L377.1,673.8 L380.8,671.7 L385.0,669.6 L385.8,667.1 L387.9,667.9 L389.6,665.4 L391.2,666.2 L393.3,663.8 L395.0,665.0 L397.5,662.1 L400.0,662.9 L402.5,658.8 L403.8,661.2 L405.8,660.0 L406.7,655.8 L409.2,655.4 L412.5,656.2 L410.0,658.8 L406.7,662.1 L413.3,660.0 L416.7,660.0 L416.2,657.5 L417.9,654.2 L420.0,655.0 L420.0,657.1 L418.3,658.8 L417.9,660.8 L414.2,661.2 L410.8,661.7 L407.5,663.8 L405.8,665.4 L406.7,669.6 L405.0,670.0 L404.6,667.1 L402.9,670.0 L403.3,673.3 L402.1,672.5 L401.2,669.2 L398.8,670.0 L397.5,672.5 L397.5,675.4 L395.0,674.6 L393.3,673.8 L390.0,674.6 L386.7,674.2 L384.6,675.8 L383.3,678.8 L385.4,680.8 L389.2,682.1 L392.5,684.2 L390.0,684.2 L386.2,682.9 L383.8,685.0 L382.9,686.7 L380.8,685.4 L380.0,682.5 L378.3,680.4 L375.8,679.2 L373.3,680.4 L371.7,680.0 L368.3,678.8 L365.8,678.3 L364.2,679.2 L362.5,680.8 L360.0,680.0 L356.2,681.2 L352.9,682.5 L352.5,678.3 L351.2,674.2" fill="none" stroke="#000" stroke-width="1.3" stroke-linejoin="round" stroke-linecap="round"/></g>
<clipPath id="frame"><rect x="98" y="57" width="884" height="687.6"/></clipPath>
<rect x="98.3" y="57" width="883.7" height="687.6" fill="none" stroke="#0a0a0a" stroke-width="1.6"/>
<path d="M94.5,57.0H98 M94.5,114.3H98 M94.5,171.6H98 M94.5,228.9H98 M94.5,286.2H98 M94.5,343.5H98 M94.5,400.8H98 M94.5,458.1H98 M94.5,515.4H98 M94.5,572.7H98 M94.5,630.0H98 M94.5,687.3H98 M94.5,744.6H98 M98.0,744.6V748.1 M196.2,744.6V748.1 M294.4,744.6V748.1 M392.7,744.6V748.1 M490.9,744.6V748.1 M589.1,744.6V748.1 M687.3,744.6V748.1 M785.6,744.6V748.1 M883.8,744.6V748.1 M982.0,744.6V748.1" stroke="#111" stroke-width="1.1" fill="none"/>
<text x="73.7" y="61.2" textLength="17.4" lengthAdjust="spacingAndGlyphs" class="ax">22S</text>
<text x="73.7" y="118.5" textLength="17.4" lengthAdjust="spacingAndGlyphs" class="ax">23S</text>
<text x="73.7" y="175.8" textLength="17.4" lengthAdjust="spacingAndGlyphs" class="ax">24S</text>
<text x="73.7" y="233.1" textLength="17.4" lengthAdjust="spacingAndGlyphs" class="ax">25S</text>
<text x="73.7" y="290.4" textLength="17.4" lengthAdjust="spacingAndGlyphs" class="ax">26S</text>
<text x="73.7" y="347.7" textLength="17.4" lengthAdjust="spacingAndGlyphs" class="ax">27S</text>
<text x="73.7" y="405.0" textLength="17.4" lengthAdjust="spacingAndGlyphs" class="ax">28S</text>
<text x="73.7" y="462.3" textLength="17.4" lengthAdjust="spacingAndGlyphs" class="ax">29S</text>
<text x="73.7" y="519.6" textLength="17.4" lengthAdjust="spacingAndGlyphs" class="ax">30S</text>
<text x="73.7" y="576.9" textLength="17.4" lengthAdjust="spacingAndGlyphs" class="ax">31S</text>
<text x="73.7" y="634.2" textLength="17.4" lengthAdjust="spacingAndGlyphs" class="ax">32S</text>
<text x="73.7" y="691.5" textLength="17.4" lengthAdjust="spacingAndGlyphs" class="ax">33S</text>
<text x="73.7" y="748.8" textLength="17.4" lengthAdjust="spacingAndGlyphs" class="ax">34S</text>
<text x="88.6" y="758.3" textLength="18.9" lengthAdjust="spacingAndGlyphs" class="ax">62W</text>
<text x="186.8" y="758.3" textLength="18.9" lengthAdjust="spacingAndGlyphs" class="ax">60W</text>
<text x="285.0" y="758.3" textLength="18.9" lengthAdjust="spacingAndGlyphs" class="ax">58W</text>
<text x="383.3" y="758.3" textLength="18.9" lengthAdjust="spacingAndGlyphs" class="ax">56W</text>
<text x="481.5" y="758.3" textLength="18.9" lengthAdjust="spacingAndGlyphs" class="ax">54W</text>
<text x="579.7" y="758.3" textLength="18.9" lengthAdjust="spacingAndGlyphs" class="ax">52W</text>
<text x="677.9" y="758.3" textLength="18.9" lengthAdjust="spacingAndGlyphs" class="ax">50W</text>
<text x="776.2" y="758.3" textLength="18.9" lengthAdjust="spacingAndGlyphs" class="ax">48W</text>
<text x="874.4" y="758.3" textLength="18.9" lengthAdjust="spacingAndGlyphs" class="ax">46W</text>
<text x="972.6" y="758.3" textLength="18.9" lengthAdjust="spacingAndGlyphs" class="ax">44W</text>
<rect x="48.6" y="762.4" width="80" height="15.2" fill="#9400d8" stroke="#222" stroke-width="0.8"/>
<rect x="128.6" y="762.4" width="80" height="15.2" fill="#aa0090" stroke="#222" stroke-width="0.8"/>
<rect x="208.6" y="762.4" width="80" height="15.2" fill="#d40058" stroke="#222" stroke-width="0.8"/>
<rect x="288.6" y="762.4" width="80" height="15.2" fill="#fa0028" stroke="#222" stroke-width="0.8"/>
<rect x="368.6" y="762.4" width="80" height="15.2" fill="#e6280a" stroke="#222" stroke-width="0.8"/>
<rect x="448.6" y="762.4" width="80" height="15.2" fill="#98700c" stroke="#222" stroke-width="0.8"/>
<rect x="528.6" y="762.4" width="80" height="15.2" fill="#4fb70d" stroke="#222" stroke-width="0.8"/>
<rect x="608.6" y="762.4" width="80" height="15.2" fill="#00fa28" stroke="#222" stroke-width="0.8"/>
<text transform="translate(50,807.5) scale(0.92,1)" textLength="58.4" lengthAdjust="spacing" class="l">Chance</text>
<text transform="translate(114.5,807.5) scale(0.92,1)" textLength="37.2" lengthAdjust="spacing" class="l">mais</text>
<text transform="translate(159.5,807.5) scale(0.92,1)" textLength="29.1" lengthAdjust="spacing" class="l">alta</text>
<text transform="translate(515,807.5) scale(0.92,1)" textLength="58.4" lengthAdjust="spacing" class="l">Chance</text>
<text transform="translate(580,807.5) scale(0.92,1)" textLength="37.5" lengthAdjust="spacing" class="l">mais</text>
<text transform="translate(625,807.5) scale(0.92,1)" textLength="42.1" lengthAdjust="spacing" class="l">baixa</text>
<defs>
<radialGradient id="gl" cx="0.3" cy="0.32" r="0.9"><stop offset="0" stop-color="#2a94ea"/><stop offset="0.4" stop-color="#1c68d2"/><stop offset="0.8" stop-color="#2340a8"/><stop offset="1" stop-color="#2a2f96"/></radialGradient>
<linearGradient id="rg" x1="0" y1="0" x2="1" y2="0"><stop offset="0" stop-color="#5bb6f2"/><stop offset="0.5" stop-color="#3d98e8"/><stop offset="1" stop-color="#2f78d8"/></linearGradient>
</defs>
<ellipse cx="982.8" cy="792.3" rx="16.2" ry="13.4" fill="url(#gl)"/>
<circle cx="978.9" cy="786.6" r="0.45" fill="#cfe6ff"/><circle cx="983.0" cy="783.5" r="0.4" fill="#cfe6ff"/><circle cx="988.7" cy="784.5" r="0.45" fill="#cfe6ff"/><circle cx="992.4" cy="789.4" r="0.5" fill="#cfe6ff"/><circle cx="990.0" cy="787.1" r="0.35" fill="#cfe6ff"/><circle cx="985.6" cy="789.4" r="0.35" fill="#cfe6ff"/>
<path d="M965.54,788.28 C958.15,789.19 952.06,791.39 951.67,794.37 C951.67,798.00 963.33,801.24 978.89,801.63 C988.22,801.76 996.00,799.82 999.11,797.35 L999.11,795.80 C994.45,797.61 984.08,798.26 975.00,797.35 C967.87,796.58 963.33,794.89 963.07,792.82 C963.07,791.39 964.11,789.70 965.54,788.28 Z" fill="url(#rg)"/>
<path d="M952.96,795.41 C956.85,798.78 968.52,800.85 980.19,800.98 C987.96,800.98 995.09,799.56 998.59,797.61" fill="none" stroke="#b4e0ff" stroke-width="0.8"/>
<text x="1005.4" y="796.7" textLength="31" lengthAdjust="spacingAndGlyphs" style="font-size:14.4px;fill:#2f9bd2;stroke:#2f9bd2;stroke-width:0.35px;">MET</text>
<text x="1037.6" y="796.7" textLength="36.4" lengthAdjust="spacingAndGlyphs" style="font-size:14.4px;fill:#2b2a7c;stroke:#2b2a7c;stroke-width:0.75px;">SUL</text>
<text x="1012" y="802" textLength="55.7" lengthAdjust="spacing" style="font-size:3.4px;font-weight:bold;fill:#444a66;">METEOROLOGIA</text>
</svg>
</body></html>
